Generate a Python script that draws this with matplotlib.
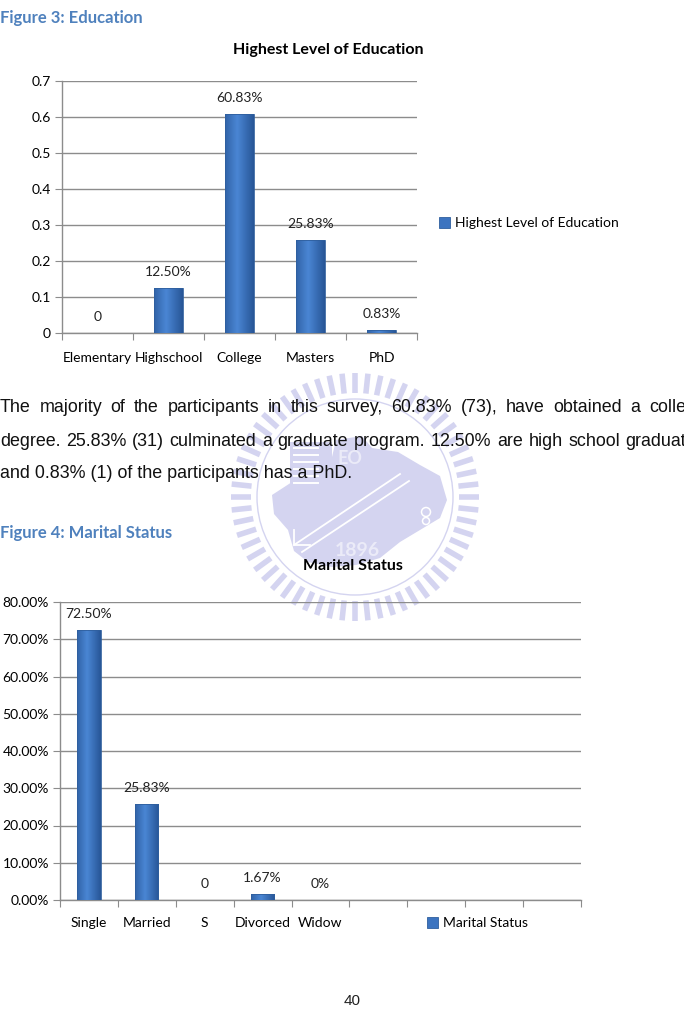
import matplotlib
matplotlib.use("Agg")
import matplotlib.pyplot as plt
import numpy as np
from matplotlib.patches import Circle, Polygon, Rectangle

# ---- data ----
edu_categories = ["Elementary", "Highschool", "College", "Masters", "PhD"]
edu_values = [0.0, 0.125, 0.6083, 0.2583, 0.0083]
edu_labels = ["0", "12.50%", "60.83%", "25.83%", "0.83%"]

mar_categories = ["Single", "Married", "S", "Divorced", "Widow", "", "", "", ""]
mar_values = [0.725, 0.2583, 0.0, 0.0167, 0.0, np.nan, np.nan, np.nan, np.nan]
mar_labels = ["72.50%", "25.83%", "0", "1.67%", "0%", "", "", "", ""]

para_lines = [
    "The majority of the participants in this survey, 60.83% (73), have obtained a colle",
    "degree. 25.83% (31) culminated a graduate program. 12.50% are high school graduat",
    "and 0.83% (1) of the participants has a PhD.",
]

W, H = 684, 1009
HEAD_BLUE = "#4F81BD"
BAR_DARK = "#2F5F9E"
GRID = "#8C8C8C"
WM = "#D4D4F0"
WM_LIGHT = "#EBEBF8"
CHART_FONT = "Lato"
BODY_FONT = "Liberation Sans"

fig = plt.figure(figsize=(W / 100, H / 100), dpi=100)
fig.patch.set_facecolor("white")

# page axes in pixel coordinates (y down)
page = fig.add_axes([0, 0, 1, 1])
page.set_xlim(0, W)
page.set_ylim(H, 0)
page.axis("off")
page.set_zorder(0)


def add_px_axes(left, top, right, bottom):
    return fig.add_axes([left / W, (H - bottom) / H, (right - left) / W, (bottom - top) / H])


def draw_watermark(ax, cx, cy):
    for a in np.linspace(0, 2 * np.pi, 60, endpoint=False):
        r0, r1 = 104, 124
        ax.plot([cx + r0 * np.cos(a), cx + r1 * np.cos(a)],
                [cy + r0 * np.sin(a), cy + r1 * np.sin(a)],
                color=WM, lw=4, solid_capstyle="butt", zorder=1)
    ax.add_patch(Circle((cx, cy), 98, fill=False, ec=WM, lw=1.0, zorder=1))
    blob = [(272, 495), (292, 482), (328, 474), (336, 440), (362, 436), (372, 448),
            (398, 452), (420, 465), (440, 476), (447, 500), (440, 518), (420, 530),
            (400, 542), (380, 558), (356, 565), (332, 567), (308, 562), (294, 551),
            (288, 530), (274, 514)]
    ax.add_patch(Polygon(blob, closed=True, fc=WM, ec="none", zorder=1))
    ax.add_patch(Rectangle((290, 442), 42, 42, fc=WM, ec="none", zorder=1))
    for yy in range(448, 484, 7):
        ax.plot([294, 318], [yy, yy], color="white", lw=1.4, zorder=1)
    ax.plot([400, 294], [474, 545], color="white", lw=1.3, zorder=1)
    ax.plot([409, 302], [481, 552], color="white", lw=1.3, zorder=1)
    ax.plot([294, 294, 310], [530, 545, 545], color="white", lw=1.3, zorder=1)
    ax.add_patch(Circle((426, 512), 4.5, fill=False, ec="white", lw=1.1, zorder=1))
    ax.add_patch(Circle((426, 521), 3.5, fill=False, ec="white", lw=1.1, zorder=1))
    ax.text(cx + 2, 551, "1896", ha="center", va="center", fontsize=14, fontweight="bold",
            color=WM_LIGHT, family=CHART_FONT, zorder=1)
    ax.text(350, 458, "EO", ha="center", va="center", fontsize=13, fontweight="bold",
            color=WM_LIGHT, family=CHART_FONT, zorder=1)


draw_watermark(page, 355, 497)

# ---- page text ----
page.text(0, 18, "Figure 3: Education", fontsize=12, fontweight="bold",
          color=HEAD_BLUE, family=CHART_FONT, va="center", ha="left", zorder=3)
page.text(0, 533, "Figure 4: Marital Status", fontsize=12, fontweight="bold",
          color=HEAD_BLUE, family=CHART_FONT, va="center", ha="left", zorder=3)
page.text(352, 1001, "40", fontsize=11, family=BODY_FONT, ha="center", va="center",
          color="#222222", zorder=3)

renderer = fig.canvas.get_renderer()
line_y = [407, 441, 474]
for i, (line, y) in enumerate(zip(para_lines, line_y)):
    words = line.split(" ")
    if i == len(para_lines) - 1:
        page.text(0, y, line, fontsize=12.9, family=BODY_FONT, va="center", ha="left",
                  color="#111111", zorder=3)
        continue
    objs = [page.text(0, y, w, fontsize=12.9, family=BODY_FONT, va="center", ha="left",
                      color="#111111", zorder=3) for w in words]
    widths = [o.get_window_extent(renderer).width for o in objs]
    gap = (W + 2 - sum(widths)) / (len(words) - 1)
    x = 0.0
    for o, wd in zip(objs, widths):
        o.set_x(x)
        x += wd + gap


def gradient_bars(ax, bars):
    grad = np.linspace(0, 1, 64)
    prof = 1 - np.abs(grad - 0.42) * 1.6
    img = np.zeros((2, 64, 3))
    dark = np.array([0x25, 0x52, 0x92]) / 255
    light = np.array([0x4A, 0x86, 0xD4]) / 255
    for k in range(64):
        img[:, k, :] = dark + (light - dark) * np.clip(prof[k], 0, 1)
    for b in bars:
        if b.get_height() <= 0 or np.isnan(b.get_height()):
            continue
        x0, w = b.get_x(), b.get_width()
        h = b.get_height()
        im = ax.imshow(img, extent=[x0, x0 + w, 0, h], aspect="auto", zorder=3,
                       interpolation="bilinear")
        im.set_clip_path(b)
        b.set_facecolor("none")


def style_axes(ax, n, label_pad):
    ax.set_facecolor("none")
    ax.set_xlim(0, n)
    for s in ["top", "right"]:
        ax.spines[s].set_visible(False)
    for s in ["left", "bottom"]:
        ax.spines[s].set_color(GRID)
        ax.spines[s].set_linewidth(1.0)
    ax.yaxis.grid(True, color=GRID, lw=1.0)
    ax.set_axisbelow(True)
    ax.set_xticks(np.arange(n + 1))
    ax.set_xticklabels([])
    ax.set_xticks(np.arange(n) + 0.5, minor=True)
    ax.tick_params(axis="x", which="major", length=5, color=GRID, direction="out")
    ax.tick_params(axis="x", which="minor", length=0, labelsize=10, pad=label_pad)
    ax.tick_params(axis="y", length=5, color=GRID, labelsize=10, pad=3)
    for t in ax.get_yticklabels() + ax.get_xticklabels(minor=True):
        t.set_family(CHART_FONT)


# ---- chart 1 ----
ax1 = add_px_axes(62, 81, 417, 333)
x1 = np.arange(len(edu_categories)) + 0.5
bars1 = ax1.bar(x1, edu_values, width=0.4, color="none", edgecolor=BAR_DARK, lw=0.6,
                label="Highest Level of Education", zorder=4)
gradient_bars(ax1, bars1)
style_axes(ax1, len(edu_categories), 14)
ax1.set_ylim(0, 0.7)
ax1.set_yticks(np.arange(0, 0.71, 0.1))
ax1.set_yticklabels(["0", "0.1", "0.2", "0.3", "0.4", "0.5", "0.6", "0.7"], family=CHART_FONT)
ax1.set_xticklabels(edu_categories, minor=True, family=CHART_FONT, fontsize=10)
for xx, v, lab in zip(x1, edu_values, edu_labels):
    ax1.annotate(lab, (xx, v), xytext=(0, 16), textcoords="offset pixels", ha="center",
                 va="center", fontsize=10, family=CHART_FONT, color="#222222")
page.text(328, 50, "Highest Level of Education", fontsize=11.5, fontweight="bold",
          family=CHART_FONT, ha="center", va="center", zorder=3)
h1 = Rectangle((0, 0), 1, 1, fc="#3C74C0", ec=BAR_DARK, lw=0.6)
fig.legend([h1], ["Highest Level of Education"], loc="center left",
           bbox_to_anchor=(426 / W, 1 - 223 / H), frameon=False,
           prop={"family": CHART_FONT, "size": 10}, handlelength=0.8, handleheight=0.8,
           handletextpad=0.4)

# ---- chart 2 ----
ax2 = add_px_axes(60, 602, 581, 900)
x2 = np.arange(len(mar_categories)) + 0.5
bars2 = ax2.bar(x2, mar_values, width=0.4, color="none", edgecolor=BAR_DARK, lw=0.6,
                zorder=4)
gradient_bars(ax2, bars2)
style_axes(ax2, len(mar_categories), 12)
ax2.set_ylim(0, 0.8)
yt = np.arange(0, 0.81, 0.1)
ax2.set_yticks(yt)
ax2.set_yticklabels([f"{v * 100:.2f}%" for v in yt], family=CHART_FONT)
ax2.set_xticklabels(mar_categories, minor=True, family=CHART_FONT, fontsize=10)
for xx, v, lab in zip(x2, mar_values, mar_labels):
    if lab == "":
        continue
    ax2.annotate(lab, (xx, v), xytext=(0, 16), textcoords="offset pixels", ha="center",
                 va="center", fontsize=10, family=CHART_FONT, color="#222222")
page.text(353, 566, "Marital Status", fontsize=11.5, fontweight="bold",
          family=CHART_FONT, ha="center", va="center", zorder=3)
h2 = Rectangle((0, 0), 1, 1, fc="#3C74C0", ec=BAR_DARK, lw=0.6)
fig.legend([h2], ["Marital Status"], loc="center left",
           bbox_to_anchor=(414 / W, 1 - 923 / H), frameon=False,
           prop={"family": CHART_FONT, "size": 10}, handlelength=0.8, handleheight=0.8,
           handletextpad=0.4)

fig.savefig("out.png", dpi=100)
